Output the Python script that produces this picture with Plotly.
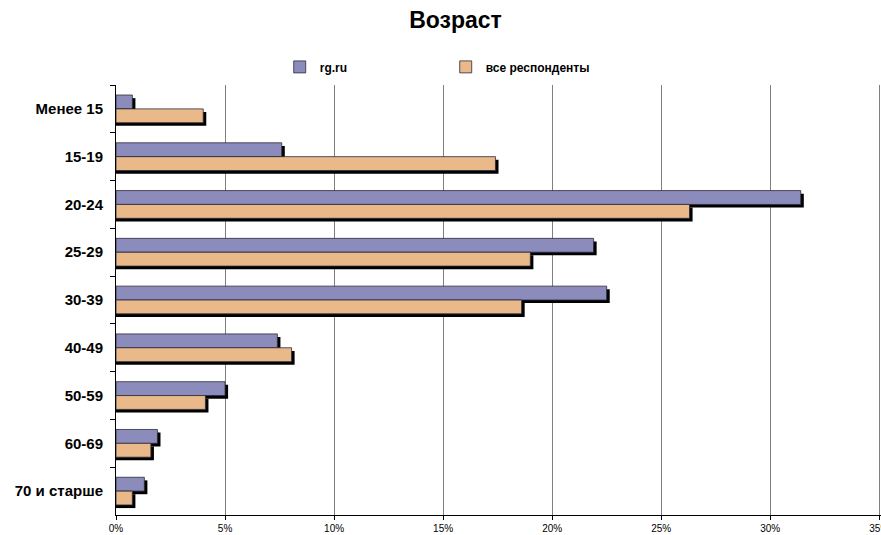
import plotly.graph_objects as go

categories = ["Менее 15", "15-19", "20-24", "25-29", "30-39", "40-49", "50-59", "60-69", "70 и старше"]
rg_ru = [0.75, 7.6, 31.4, 21.9, 22.5, 7.4, 5.0, 1.9, 1.3]
all_resp = [4.0, 17.4, 26.3, 19.0, 18.6, 8.05, 4.1, 1.6, 0.75]
series_names = ["rg.ru", "все респонденты"]
x_max = 35
x_step = 5

BLUE = "#8C8CBC"
ORANGE = "#E9B98A"
BAR_W = 0.29
SHADOW_DY = 0.065   # in category units
SHADOW_DX = 0.14    # in % units
FONT = "Liberation Sans, Arial, sans-serif"

fig = go.Figure()

def add_series(vals, name, color, offset):
    fig.add_trace(go.Bar(
        y=categories, x=[v + SHADOW_DX for v in vals], orientation="h",
        width=BAR_W, offset=offset + SHADOW_DY,
        marker=dict(color="#000000", line=dict(width=0)),
        showlegend=False, hoverinfo="skip"))
    fig.add_trace(go.Bar(
        y=categories, x=vals, orientation="h", name="<b>" + name + "</b>",
        width=BAR_W, offset=offset,
        marker=dict(color=color, line=dict(color="#2a2a3a", width=0.8))))

add_series(rg_ru, series_names[0], BLUE, -BAR_W)
add_series(all_resp, series_names[1], ORANGE, 0.0)

fig.update_layout(
    width=881, height=535,
    barmode="overlay",
    paper_bgcolor="white", plot_bgcolor="white",
    margin=dict(l=116, r=0, t=85, b=20, autoexpand=False),
    font=dict(family=FONT, color="#000"),
    title=dict(text="<b>Возраст</b>", x=0.517, xanchor="center", y=0.963, yanchor="middle",
               font=dict(size=23, family=FONT)),
    legend=dict(orientation="h", x=0.214, xanchor="left", y=0.875, yref="container",
                yanchor="middle", entrywidth=121, entrywidthmode="pixels",
                itemwidth=30, font=dict(size=12, family=FONT),
                traceorder="normal"),
    xaxis=dict(range=[0, x_max + 0.08], tick0=0, dtick=x_step, ticksuffix="%",
               showgrid=True, gridcolor="#808080", gridwidth=1,
               showline=True, linecolor="#000", linewidth=1,
               ticks="outside", ticklen=4, tickcolor="#000",
               ticklabeloverflow="allow",
               tickfont=dict(size=10, family="Liberation Sans Narrow, Liberation Sans, Arial"),
               zeroline=False, fixedrange=True, automargin=False),
    yaxis=dict(autorange="reversed", showline=True, linecolor="#000", linewidth=1,
               ticks="outside", ticklen=5, tickcolor="#000", tickson="boundaries",
               tickfont=dict(size=15, family=FONT),
               tickprefix="<b>", ticksuffix="</b>",
               ticklabelstandoff=9, showgrid=False, automargin=False),
)

fig.write_html("out.html", config={"displayModeBar": False, "staticPlot": True},
               post_script="document.body.style.margin='0px';")
